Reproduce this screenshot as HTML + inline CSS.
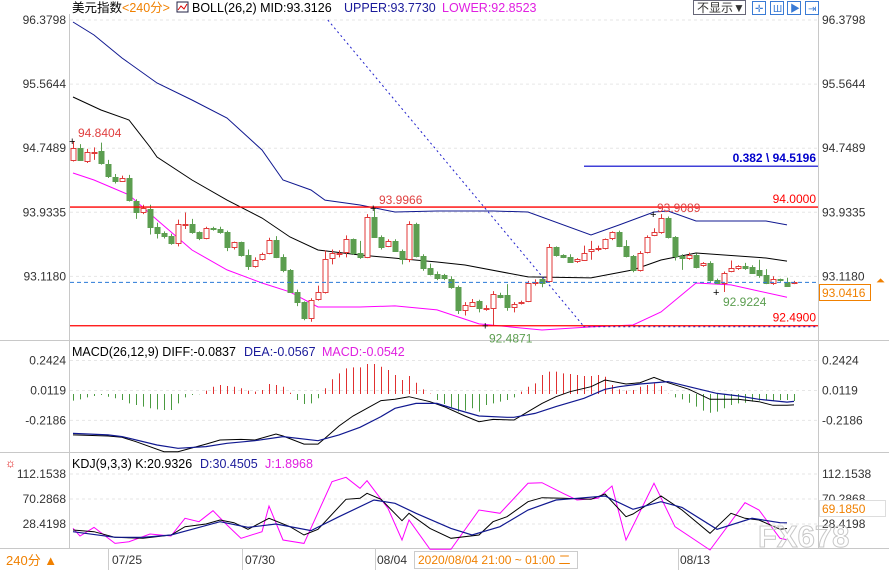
<!DOCTYPE html>
<html><head><meta charset="utf-8"><style>
html,body{margin:0;padding:0;background:#fff;}
svg{display:block;font-family:"Liberation Sans","Noto Sans CJK SC",sans-serif;}
</style></head><body>
<svg id="c" width="889" height="570" viewBox="0 0 889 570" xmlns="http://www.w3.org/2000/svg">
<rect x="0" y="0" width="889" height="570" fill="#fff"/>
<g stroke="#c8c8c8" stroke-width="1">
<line x1="69.5" y1="14" x2="69.5" y2="548"/>
<line x1="818.5" y1="14" x2="818.5" y2="548"/>
<line x1="0" y1="340.5" x2="889" y2="340.5"/>
<line x1="0" y1="452.5" x2="889" y2="452.5"/>
<line x1="0" y1="548.5" x2="889" y2="548.5"/>
</g>
<g id="grid"></g>
<g id="axes" font-size="12" fill="#333"></g>
<g id="boll"></g>
<g id="candles"></g>
<g id="macd"></g>
<g id="kdj"></g>
<g id="draw"></g>

<g font-size="12.5">
<text x="72" y="12" fill="#000">美元指数<tspan fill="#f08000">&lt;240分&gt;</tspan></text>
<rect x="177" y="2" width="11" height="10" fill="none" stroke="#224" stroke-width="1"/>
<polyline points="178,10 181,6 184,9 187,4" fill="none" stroke="#d00" stroke-width="1"/>
<text x="192" y="12" fill="#000">BOLL(26,2) MID:93.3126</text>
<text x="344" y="12" fill="#1a1a9a">UPPER:93.7730</text>
<text x="442" y="12" fill="#e020e0">LOWER:92.8523</text>
</g>
<g font-size="12">
<rect x="693.5" y="0.5" width="52" height="14" fill="#fff" stroke="#667"/>
<text x="697" y="12" fill="#333">不显示▼</text>
<rect x="752.5" y="1.5" width="13" height="13" fill="#fff" stroke="#3a7bd5"/>
<rect x="770.5" y="1.5" width="13" height="13" fill="#fff" stroke="#3a7bd5"/>
<rect x="787.5" y="1.5" width="13" height="13" fill="#fff" stroke="#3a7bd5"/>
<rect x="805.5" y="1.5" width="13" height="13" fill="#fff" stroke="#3a7bd5"/>
<text x="755" y="12" fill="#3a7bd5" font-size="10">✛</text>
<text x="773" y="12" fill="#3a7bd5" font-size="10">Ш</text>
<text x="790" y="12" fill="#3a7bd5" font-size="10">▶</text>
<text x="808" y="12" fill="#3a7bd5" font-size="10">⇥</text>
</g>
<g font-size="12.5">
<text x="72" y="356" fill="#000">MACD(26,12,9) DIFF:-0.0837</text>
<text x="244" y="356" fill="#1a1a9a">DEA:-0.0567</text>
<text x="322" y="356" fill="#e020e0">MACD:-0.0542</text>
</g>
<g font-size="12.5">
<text x="5" y="467" fill="#d00" font-size="12">☼</text>
<text x="72" y="468" fill="#000">KDJ(9,3,3) K:20.9326</text>
<text x="200" y="468" fill="#1a1a9a">D:30.4505</text>
<text x="265" y="468" fill="#e020e0">J:1.8968</text>
</g>
<g font-size="12" fill="#333">
<line x1="108.5" y1="548" x2="108.5" y2="570" stroke="#ccc"/>
<line x1="242.5" y1="548" x2="242.5" y2="570" stroke="#ccc"/>
<line x1="375.5" y1="548" x2="375.5" y2="570" stroke="#ccc"/>
<line x1="678.5" y1="548" x2="678.5" y2="570" stroke="#ccc"/>
<text x="112" y="564">07/25</text>
<text x="245" y="564">07/30</text>
<text x="377" y="564">08/04</text>
<rect x="414.5" y="551.5" width="163" height="17" fill="#fff" stroke="#ccc"/>
<text x="418" y="564" fill="#f08000">2020/08/04 21:00 ~ 01:00 二</text>
<text x="680" y="564">08/13</text>
<rect x="0" y="549" width="68" height="21" fill="#fff"/>
<text x="6" y="565" fill="#f08000" font-size="13">240分 ▲</text>
</g>
<g font-size="12">
<rect x="819.5" y="284.5" width="51" height="16" fill="#fff" stroke="#f08000"/>
<text x="822" y="297" fill="#f08000">93.0416</text>
<text x="876" y="284" fill="#f08000" font-size="11">⏶</text>
<rect x="819.5" y="500.5" width="66" height="16" fill="#fff" stroke="#ddd"/>
<text x="822" y="513" fill="#f08000">69.1850</text>
</g>
<text x="758" y="547" font-size="31" fill="none" stroke="#c8c8c8" stroke-width="1" font-weight="bold">FX678</text>
</svg>
<script>
// ---- price candles ----
const opens=[94.60,94.75,94.59,94.69,94.71,94.55,94.38,94.33,94.37,94.08,93.94,93.97,93.74,93.67,93.63,93.54,93.78,93.79,93.68,93.60,93.73,93.72,93.68,93.49,93.55,93.39,93.25,93.34,93.41,93.58,93.36,93.20,92.92,92.79,92.59,92.83,92.92,93.35,93.41,93.43,93.59,93.41,93.36,93.87,93.62,93.50,93.57,93.44,93.34,93.78,93.38,93.22,93.15,93.13,93.08,92.98,92.69,92.74,92.80,92.71,92.71,92.88,92.88,92.73,92.78,92.80,93.04,93.08,93.06,93.49,93.39,93.37,93.31,93.33,93.44,93.47,93.48,93.61,93.68,93.50,93.38,93.20,93.43,93.64,93.68,93.86,93.62,93.38,93.35,93.39,93.26,93.29,93.07,93.04,93.19,93.22,93.25,93.24,93.20,93.14,93.03,93.08,93.05,93.04];
const closes=[94.75,94.60,94.70,94.70,94.56,94.40,94.33,94.37,94.09,93.94,93.99,93.74,93.67,93.63,93.54,93.78,93.79,93.68,93.60,93.73,93.72,93.68,93.49,93.55,93.39,93.25,93.33,93.40,93.58,93.36,93.20,92.92,92.79,92.59,92.82,92.92,93.34,93.41,93.42,93.59,93.41,93.36,93.87,93.62,93.49,93.57,93.44,93.34,93.78,93.38,93.22,93.15,93.10,93.10,92.98,92.69,92.75,92.79,92.71,92.72,92.90,92.86,92.73,92.77,92.79,93.03,93.05,93.04,93.49,93.39,93.37,93.30,93.34,93.42,93.47,93.48,93.59,93.68,93.50,93.38,93.20,93.41,93.62,93.68,93.86,93.62,93.38,93.35,93.39,93.24,93.29,93.07,93.04,93.16,93.22,93.25,93.22,93.16,93.14,93.04,93.08,93.07,93.00,93.05];
const highs=[94.84,94.80,94.74,94.76,94.82,94.60,94.42,94.40,94.41,94.10,94.03,94.03,93.80,93.69,93.66,93.84,93.93,93.85,93.69,93.75,93.75,93.75,93.70,93.56,93.56,93.46,93.36,93.42,93.61,93.63,93.40,93.21,92.95,92.80,92.84,93.00,93.45,93.46,93.45,93.64,93.60,93.57,93.91,93.99,93.64,93.59,93.59,93.46,93.82,93.80,93.40,93.28,93.18,93.15,93.12,93.00,92.79,92.83,92.82,92.75,92.93,92.91,93.02,92.79,92.81,93.06,93.08,93.10,93.53,93.50,93.40,93.40,93.35,93.51,93.57,93.51,93.60,93.69,93.70,93.58,93.39,93.44,93.64,93.73,93.91,93.88,93.63,93.40,93.42,93.41,93.30,93.31,93.09,93.18,93.32,93.26,93.29,93.26,93.33,93.21,93.12,93.09,93.10,93.06];
const lows=[94.58,94.59,94.56,94.60,94.54,94.37,94.30,94.32,94.07,93.85,93.91,93.65,93.60,93.60,93.52,93.50,93.72,93.66,93.58,93.59,93.70,93.66,93.44,93.46,93.37,93.20,93.23,93.32,93.40,93.35,93.17,92.91,92.74,92.56,92.54,92.81,92.90,93.27,93.36,93.36,93.39,93.34,93.35,93.61,93.46,93.49,93.43,93.27,93.30,93.36,93.19,93.13,93.07,93.07,92.96,92.64,92.62,92.73,92.66,92.68,92.49,92.84,92.68,92.66,92.76,92.79,93.00,92.98,93.04,93.37,93.35,93.29,93.29,93.32,93.33,93.44,93.46,93.58,93.49,93.36,93.17,93.18,93.41,93.63,93.66,93.60,93.32,93.20,93.33,93.22,93.24,93.05,93.02,92.92,93.17,93.20,93.20,93.15,93.10,93.02,93.01,93.05,92.99,93.02];
// ---- bollinger (sampled at candle indices) ----
const upperIdx=[0,3,7,12,17,22,27,30,34,36,41,46,52,60,65,74,78,83,85,89,99,102];
const upperVal=[96.354,96.189,95.896,95.578,95.362,95.133,94.726,94.344,94.217,94.089,94.026,93.937,93.950,93.950,93.937,93.645,93.772,93.937,93.950,93.823,93.823,93.773];
const midIdx=[0,4,8,11,12,17,22,27,31,35,41,52,56,65,74,80,84,89,99,102];
const midVal=[95.400,95.235,95.108,94.764,94.637,94.344,94.089,93.861,93.619,93.454,93.390,93.301,93.263,93.111,93.098,93.200,93.327,93.416,93.352,93.313];
const lowerIdx=[0,3,8,12,17,22,27,31,35,41,46,52,58,67,74,80,84,89,94,102];
const lowerVal=[94.433,94.344,94.154,93.836,93.454,93.200,93.034,92.920,92.729,92.729,92.742,92.691,92.513,92.436,92.475,92.500,92.665,93.034,93.009,92.852];
// ---- MACD ----
const macdHist=[-0.051,-0.041,-0.026,-0.015,-0.008,-0.021,-0.033,-0.046,-0.072,-0.085,-0.097,-0.110,-0.118,-0.123,-0.123,-0.072,-0.026,-0.008,-0.002,0.026,0.056,0.069,0.062,0.056,0.044,0.026,0.018,0.031,0.077,0.069,0.056,0.010,-0.046,-0.077,-0.072,-0.033,0.044,0.113,0.159,0.197,0.205,0.205,0.231,0.231,0.210,0.185,0.146,0.108,0.138,0.087,0.036,0.003,-0.046,-0.077,-0.103,-0.136,-0.128,-0.110,-0.136,-0.085,-0.072,-0.059,-0.046,-0.026,0.018,0.056,0.082,0.146,0.172,0.172,0.159,0.154,0.146,0.138,0.138,0.146,0.133,0.069,0.036,0.026,0.031,0.056,0.069,0.082,0.062,0.002,-0.026,-0.041,-0.067,-0.097,-0.128,-0.144,-0.136,-0.110,-0.085,-0.072,-0.067,-0.059,-0.051,-0.046,-0.051,-0.046,-0.046,-0.054];
const diffIdx=[0,5,7,9,13,15,19,21,24,26,29,30,33,35,36,38,40,42,44,46,48,51,53,56,58,60,63,65,67,69,71,74,76,79,81,83,85,88,91,95,98,100,102,103];
const diffVal=[-0.315,-0.323,-0.333,-0.367,-0.444,-0.444,-0.385,-0.354,-0.349,-0.354,-0.308,-0.323,-0.385,-0.385,-0.341,-0.246,-0.169,-0.110,-0.051,-0.041,-0.021,-0.059,-0.097,-0.169,-0.213,-0.195,-0.200,-0.136,-0.072,-0.021,0.018,0.056,0.108,0.077,0.087,0.128,0.087,0.036,-0.041,-0.041,-0.059,-0.087,-0.087,-0.084];
const deaIdx=[0,5,7,12,15,19,22,26,30,35,38,41,44,46,49,52,55,58,62,63,66,69,73,76,78,81,85,88,92,95,98,102,103];
const deaVal=[-0.303,-0.315,-0.328,-0.392,-0.418,-0.405,-0.379,-0.359,-0.328,-0.359,-0.315,-0.256,-0.174,-0.110,-0.072,-0.072,-0.123,-0.169,-0.179,-0.179,-0.149,-0.097,-0.033,0.036,0.056,0.077,0.095,0.056,0.005,-0.015,-0.041,-0.062,-0.057];
// ---- KDJ ----
const kIdx=[0,3,6,10,14,16,19,21,23,25,28,31,33,35,39,41,42,44,47,48,51,54,58,60,62,65,67,70,74,76,79,80,84,87,91,94,96,98,101,102];
const kVal=[18.4,15.6,6.1,4.4,10.0,23.9,28.4,35.1,30.6,19.5,37.9,23.9,10.0,19.5,69.7,71.4,79.8,69.7,34.0,46.3,21.1,4.4,10.0,32.3,40.7,65.8,72.5,71.4,69.7,78.7,40.7,45.2,75.3,51.9,12.8,46.3,37.9,35.1,19.5,20.9];
const dIdx=[0,6,10,14,17,21,25,29,34,38,43,46,49,54,57,61,65,69,72,76,80,84,87,92,97,101,102];
const dVal=[15.6,6.1,6.1,10.0,19.5,32.3,22.8,28.4,17.3,40.7,68.6,63.0,46.3,21.1,10.0,23.9,51.9,68.6,71.4,75.3,53.0,65.8,56.3,19.5,37.9,30.6,30.45];
const jIdx=[0,1,3,6,8,11,14,16,18,20,22,24,27,28,30,33,37,39,41,42,45,47,48,51,54,58,61,65,67,70,72,75,77,79,83,86,91,96,98,101,102];
const jVal=[21.2,8.3,22.8,-4.0,-1.2,11.6,8.3,37.9,32.3,50.7,26.7,4.4,15.6,58.6,1.6,-4.0,99.3,106.6,88.2,101.0,54.6,1.6,35.1,-14.0,-14.0,51.9,46.3,96.5,97.6,79.8,68.6,71.4,92.1,1.6,96.5,23.9,-15.1,64.1,51.9,4.4,1.9];
// ---- axis tick labels ----
const priceTicks=["96.3798","95.5644","94.7489","93.9335","93.1180"];
const macdTicks=["0.2424","0.0119","-0.2186"];
const kdjTicks=["112.1538","70.2868","28.4198"];
// ---- horizontal levels ----
const levelRed=[94.0000,92.4900];
const fibLevel=[94.5196];
const lastPrice=[93.0416];

const NS="http://www.w3.org/2000/svg";
const X=i=>73+7*i;
const YP=p=>20+(96.3798-p)*78.6;
const YM=v=>394-v*130;
const YK=v=>474+(112.1538-v)*0.5971;
function mk(tag,attrs,parent){const e=document.createElementNS(NS,tag);for(const k in attrs)e.setAttribute(k,attrs[k]);parent.appendChild(e);return e;}
const G=id=>document.getElementById(id);

priceTicks.forEach(t=>{const y=YP(parseFloat(t));
 const l=mk('line',{x1:70,x2:818,y1:y,y2:y,stroke:'#e6e6e6','stroke-dasharray':'3,3'},G('grid'));
 
 const a=mk('text',{x:66,y:y+4,'text-anchor':'end'},G('axes'));a.textContent=t;
 
 const b=mk('text',{x:822,y:y+4},G('axes'));b.textContent=t;
 });
macdTicks.forEach(t=>{const y=YM(parseFloat(t))-2;
 const l=mk('line',{x1:70,x2:818,y1:y,y2:y,stroke:'#e6e6e6','stroke-dasharray':'3,3'},G('grid'));
 
 const a=mk('text',{x:66,y:y+4,'text-anchor':'end'},G('axes'));a.textContent=t;
 
 const b=mk('text',{x:822,y:y+4},G('axes'));b.textContent=t;
 });
kdjTicks.forEach(t=>{const y=YK(parseFloat(t));
 const l=mk('line',{x1:70,x2:818,y1:y,y2:y,stroke:'#e6e6e6','stroke-dasharray':'3,3'},G('grid'));
 
 const a=mk('text',{x:66,y:y+4,'text-anchor':'end'},G('axes'));a.textContent=t;
 
 const b=mk('text',{x:822,y:y+4},G('axes'));b.textContent=t;
 });

function line(idx,vals,yf,color,parent,name,w){
 const pts=idx.map((i,k)=>X(i).toFixed(1)+','+yf(vals[k]).toFixed(1)).join(' ');
 const p=mk('polyline',{points:pts,fill:'none',stroke:color,'stroke-width':w||1},parent);
 }

levelRed.forEach(v=>{const l=mk('line',{x1:70,x2:818,y1:YP(v),y2:YP(v),stroke:'#f00','stroke-width':1.3},G('draw'));
 
 const t=mk('text',{x:816,y:YP(v)-4,'text-anchor':'end','font-size':12,fill:'#f00'},G('draw'));t.textContent=v.toFixed(4);
 });
fibLevel.forEach(v=>{const l=mk('line',{x1:584,x2:818,y1:YP(v),y2:YP(v),stroke:'#00c','stroke-width':1.2},G('draw'));
 
 const t=mk('text',{x:816,y:YP(v)-4,'text-anchor':'end','font-size':12,fill:'#00c','font-weight':'bold'},G('draw'));t.textContent='0.382 \\ '+v.toFixed(4);
 });
lastPrice.forEach(v=>{const l=mk('line',{x1:70,x2:818,y1:YP(v),y2:YP(v),stroke:'#2a7ad8','stroke-dasharray':'4,3'},G('draw'));
 });
{const tl=mk('line',{x1:X(36.4),y1:YP(96.38),x2:X(72.9),y2:YP(92.49),stroke:'#22c','stroke-dasharray':'2,3'},G('draw'));
 
 const hl=mk('line',{x1:X(72.9),y1:YP(92.49)+1,x2:818,y2:YP(92.49)+1,stroke:'#22c','stroke-dasharray':'2,3'},G('draw'));
 }

line(upperIdx,upperVal,YP,'#101890',G('boll'),'boll-upper');
line(midIdx,midVal,YP,'#000',G('boll'),'boll-mid');
line(lowerIdx,lowerVal,YP,'#f0f',G('boll'),'boll-lower');

opens.forEach((o,i)=>{const c=closes[i],up=c>=o,x=X(i)+0.5;
 const col=up?'#e03a3a':'#5c9e50';
 const g=mk('g',{},G('candles'));
 
 mk('line',{x1:x,x2:x,y1:YP(highs[i]),y2:YP(lows[i]),stroke:col},g);
 const t=Math.round(YP(Math.max(o,c)))+0.5,b=Math.round(YP(Math.min(o,c)))+0.5;
 mk('rect',{x:x-2.5,y:t,width:5,height:Math.max(1,b-t),fill:up?'#fff':col,stroke:col,'stroke-width':1},g);});

function ann(i,p,txt,col,dx,dy){const x=X(i),y=YP(p);
 const m=mk('text',{x:x-4,y:y+4,'font-size':11,fill:'#000'},G('draw'));m.textContent='+';
 
 const t=mk('text',{x:x+dx,y:y+dy,'font-size':12,fill:col},G('draw'));t.textContent=txt;
 }
ann(0,94.84,'94.8404','#e04040',5,-4);
ann(43,93.99,'93.9966','#e04040',5,-4);
ann(83,93.91,'93.9089','#e04040',3,-2);
ann(92,92.92,'92.9224','#5c9e50',6,14);
ann(59,92.49,'92.4871','#5c9e50',3,17);

macdHist.forEach((v,i)=>{const l=mk('line',{x1:X(i)+0.5,x2:X(i)+0.5,y1:YM(0),y2:YM(v),stroke:v>=0?'#e03030':'#4a9a40'},G('macd'));
 });
line(diffIdx,diffVal,YM,'#000',G('macd'),'diff-line');
line(deaIdx,deaVal,YM,'#101890',G('macd'),'dea-line',1.2);

line(jIdx,jVal,YK,'#f0f',G('kdj'),'j-line');
line(kIdx,kVal,YK,'#000',G('kdj'),'k-line');
line(dIdx,dVal,YK,'#101890',G('kdj'),'d-line',1.2);
</script>
</body></html>
